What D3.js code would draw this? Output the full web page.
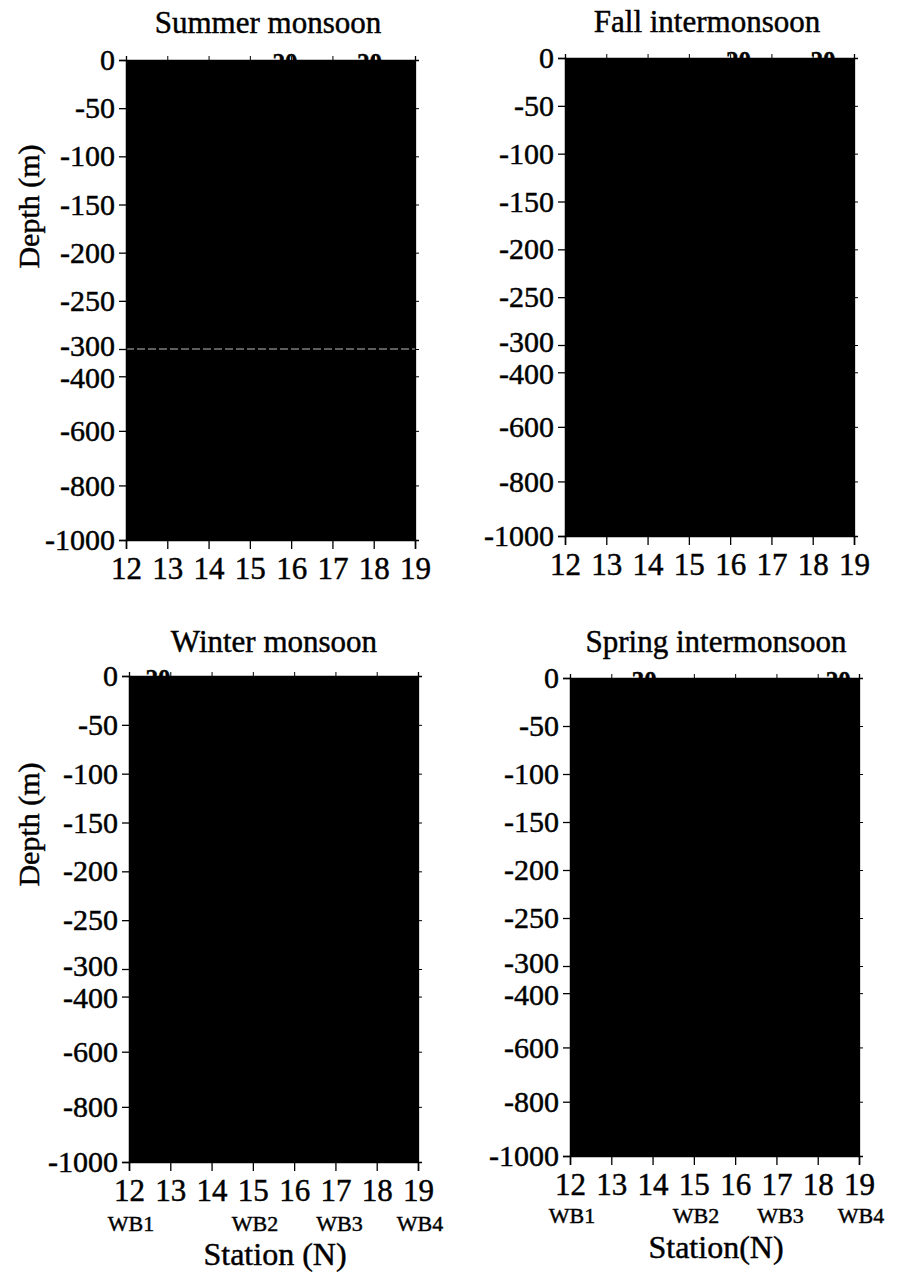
<!DOCTYPE html>
<html>
<head>
<meta charset="utf-8">
<script src="https://cdn.jsdelivr.net/npm/d3@7/dist/d3.min.js"></script>
<style>
  html, body { margin: 0; padding: 0; background: #fff; }
  svg { display: block; }
  text { fill: #000; stroke: #000; stroke-width: 0.45px; }
</style>
</head>
<body>
<svg id="chart" width="903" height="1275"></svg>
<script>
const W = 903;
const H = 1275;
const SERIF = '"Liberation Serif", "Times New Roman", Times, serif';

// data
const seasons = ['Summer monsoon', 'Fall intermonsoon', 'Winter monsoon', 'Spring intermonsoon'];
const latTicks = [12, 13, 14, 15, 16, 17, 18, 19];
const depthTicks = [0, -50, -100, -150, -200, -250, -300, -400, -600, -800, -1000];
const depthBreaks = [0, -300, -1000];
const stationNames = ['WB1', 'WB2', 'WB3', 'WB4'];
const stationLats = [12.05, 15.05, 17.1, 19.05];
// contour labels that poke out above the sea surface, per season
const summerLabels = [{ lat: 15.85, text: '20' }, { lat: 17.9, text: '20' }];
const fallLabels = [{ lat: 16.2, text: '20' }, { lat: 18.25, text: '20' }];
const winterLabels = [{ lat: 12.7, text: '20' }];
const springLabels = [{ lat: 13.8, text: '30' }, { lat: 18.5, text: '20' }];
const seasonLabels = [summerLabels, fallLabels, winterLabels, springLabels];

// layout of the four panels (pixels)
const layout = [
  { left: 126, right: 415, y0: 60, y300: 349, y1000: 540, titleX: 268, titleY: 33, depthLabel: true, xTitle: null },
  { left: 565, right: 854, y0: 58, y300: 345, y1000: 536, titleX: 707, titleY: 32, depthLabel: false, xTitle: null },
  { left: 129, right: 418, y0: 676, y300: 969, y1000: 1162, titleX: 274, titleY: 652, depthLabel: true, xTitle: 'Station (N)', xTitleX: 275, xTitleY: 1265, wbY: 1231 },
  { left: 570, right: 859, y0: 678, y300: 966, y1000: 1156, titleX: 716, titleY: 652, depthLabel: false, xTitle: 'Station(N)', xTitleX: 716, xTitleY: 1258, wbY: 1223 }
];

const svg = d3.select('#chart');

seasons.forEach((season, i) => {
  const L = layout[i];
  const x = d3.scaleLinear().domain([12, 19]).range([L.left, L.right]);
  const y = d3.scaleLinear().domain(depthBreaks).range([L.y0, L.y300, L.y1000]);

  const g = svg.append('g').attr('class', 'panel');

  // the field: every contour band prints solid black
  g.append('rect')
    .attr('x', x(12))
    .attr('y', y(0))
    .attr('width', x(19) - x(12))
    .attr('height', y(-1000) - y(0))
    .attr('fill', '#000');

  // contour labels partly above the surface
  g.selectAll('text.clabel')
    .data(seasonLabels[i])
    .enter()
    .append('text')
    .attr('class', 'clabel')
    .attr('x', (d) => x(d.lat))
    .attr('y', y(0) + 11)
    .attr('text-anchor', 'middle')
    .attr('font-size', 25)
    .attr('font-weight', 'bold')
    .text((d) => d.text);

  // faint break line (summer only shows it)
  if (i === 0) {
    g.append('line')
      .attr('x1', x(12)).attr('x2', x(19))
      .attr('y1', y(-300)).attr('y2', y(-300))
      .attr('stroke', '#bbb')
      .attr('stroke-width', 1)
      .attr('stroke-dasharray', '8,3');
  }

  // axes
  const left = g.append('g')
    .attr('transform', `translate(${L.left},0)`)
    .call(d3.axisLeft(y).tickValues(depthTicks).tickSize(7).tickPadding(4).tickFormat(d3.format('d')));
  left.select('.domain').attr('stroke', '#000').attr('stroke-width', 1.5);
  left.selectAll('.tick line').attr('stroke-width', 1.3);
  left.selectAll('text').attr('font-size', 30).attr('fill', '#000')
    .attr('dy', (d) => (d === -300 ? '0.2em' : d === -400 ? '0.38em' : '0.32em'))
    .text((d) => (d === 0 ? '0' : '-' + Math.abs(d)));

  const right = g.append('g')
    .attr('transform', `translate(${L.right},0)`)
    .call(d3.axisRight(y).tickValues(depthTicks).tickSize(4).tickFormat(''));
  right.select('.domain').attr('stroke-width', 1.3);

  const bottom = g.append('g')
    .attr('transform', `translate(0,${L.y1000})`)
    .call(d3.axisBottom(x).tickValues(latTicks).tickSize(9).tickPadding(8).tickFormat(d3.format('d')));
  bottom.select('.domain').attr('stroke-width', 1.5);
  bottom.selectAll('.tick line').attr('stroke-width', 1.3);
  bottom.selectAll('text').attr('font-size', 31).attr('fill', '#000');

  const top = g.append('g')
    .attr('transform', `translate(0,${L.y0})`)
    .call(d3.axisTop(x).tickValues(latTicks).tickSize(4).tickFormat(''));
  top.select('.domain').attr('stroke-width', 1.3);

  // title
  g.append('text')
    .attr('x', L.titleX)
    .attr('y', L.titleY)
    .attr('text-anchor', 'middle')
    .attr('font-size', 31)
    .text(season);

  if (L.depthLabel) {
    g.append('text')
      .attr('transform', `translate(39,${(L.y0 + L.y300) / 2 + 2}) rotate(-90)`)
      .attr('text-anchor', 'middle')
      .attr('font-size', 30)
      .text('Depth (m)');
  }

  if (L.xTitle) {
    g.selectAll('text.wb')
      .data(stationNames)
      .enter()
      .append('text')
      .attr('class', 'wb')
      .attr('x', (d, k) => x(stationLats[k]))
      .attr('y', L.wbY)
      .attr('text-anchor', 'middle')
      .attr('font-size', 22)
      .text((d) => d);

    g.append('text')
      .attr('x', L.xTitleX)
      .attr('y', L.xTitleY)
      .attr('text-anchor', 'middle')
      .attr('font-size', 32)
      .text(L.xTitle);
  }
});

// one serif face for every label, axes included
svg.selectAll('g').attr('font-family', null);
svg.selectAll('text').style('font-family', SERIF);
</script>
</body>
</html>
